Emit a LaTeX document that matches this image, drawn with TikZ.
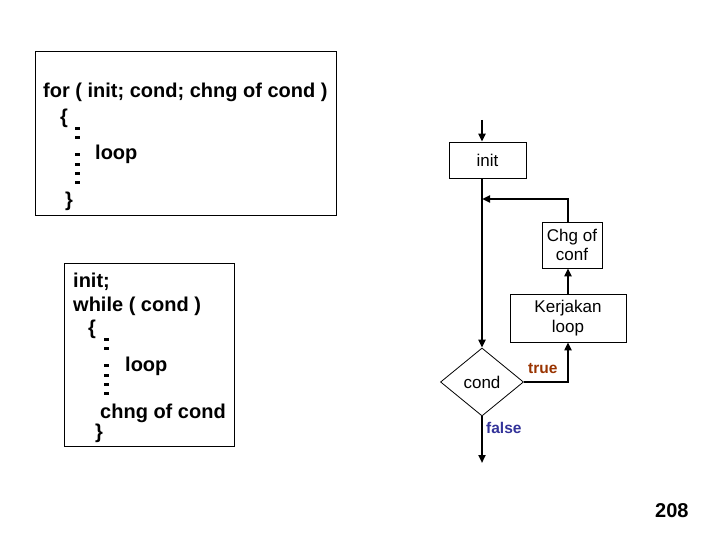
\documentclass[tikz,border=0pt]{standalone}
\usepackage{fontspec}
\setmainfont{Liberation Sans}
\usetikzlibrary{arrows.meta,shapes.geometric}
\definecolor{truecol}{HTML}{993300}
\definecolor{falsecol}{HTML}{333399}
\tikzset{
  code/.style={anchor=base west,inner sep=0pt,font=\fontsize{20}{24}\selectfont\bfseries},
  flowbox/.style={draw,line width=0.8pt,inner sep=0pt,align=center,font=\fontsize{17}{19.5}\selectfont},
  flowline/.style={line width=2pt,-{Triangle[length=8pt,width=7pt]}},
  label/.style={anchor=base west,inner sep=0pt,font=\fontsize{15.5}{18}\selectfont\bfseries}
}
\begin{document}
\begin{tikzpicture}[x=1pt,y=-1pt]
\useasboundingbox (0,0) rectangle (720,540);
% for loop
\draw[line width=0.8pt] (35,51) rectangle (336,215);
\node[code] (forhead) at (43,98) {for ( init; cond; chng of cond )};
\node[code] (foropen) at (60,124) {\{};
\node[code] (forbody) at (95,160) {loop};
\node[code] (forclose) at (65,207) {\}};
\foreach \y in {127,136,153,163,172,181}
  \fill (75,\y) rectangle +(4.5,3);
% while loop
\draw[line width=0.8pt] (64,263) rectangle (234,446);
\node[code] (winit) at (73,287) {init;};
\node[code] (whead) at (73,311) {while ( cond )};
\node[code] (wopen) at (88,334) {\{};
\node[code] (wbody) at (125,371) {loop};
\node[code] (wchng) at (100,418) {chng of cond};
\node[code] (wclose) at (95,438) {\}};
\foreach \y in {338,347,364,374,383,392}
  \fill (104,\y) rectangle +(4.5,3);
% flowchart
\node[flowbox,minimum width=77pt,minimum height=36pt] (init) at (487.5,160) {init};
\node[flowbox,minimum width=60pt,minimum height=46pt] (chg) at (572,245) {Chg of\\conf};
\node[flowbox,minimum width=116pt,minimum height=48pt] (kerja) at (568,318) {Kerjakan\\loop};
\node[draw,diamond,line width=0.8pt,inner sep=0pt,minimum width=83pt,minimum height=68pt,
  font=\fontsize{17}{19.5}\selectfont] (cond) at (482,382) {cond};
\coordinate (start) at (482,120);
\coordinate (join) at (482,199);
\coordinate (stop) at (482,463);
\draw[flowline] (start) -- (start |- init.north);
\draw[line width=2pt] (start |- init.south) -- (join);
\draw[flowline] (join) -- (cond.north);
\draw[flowline] (cond.east) -| (kerja.south);
\draw[flowline] (kerja.north) -- (kerja.north |- chg.south);
\draw[flowline] (kerja.north |- chg.north) |- (join);
\draw[flowline] (cond.south) -- (stop);
\node[label,text=truecol] (truelab) at (528,373) {true};
\node[label,text=falsecol] (falselab) at (486,433) {false};
\node[code] (page) at (655,517) {208};
\end{tikzpicture}
\end{document}
